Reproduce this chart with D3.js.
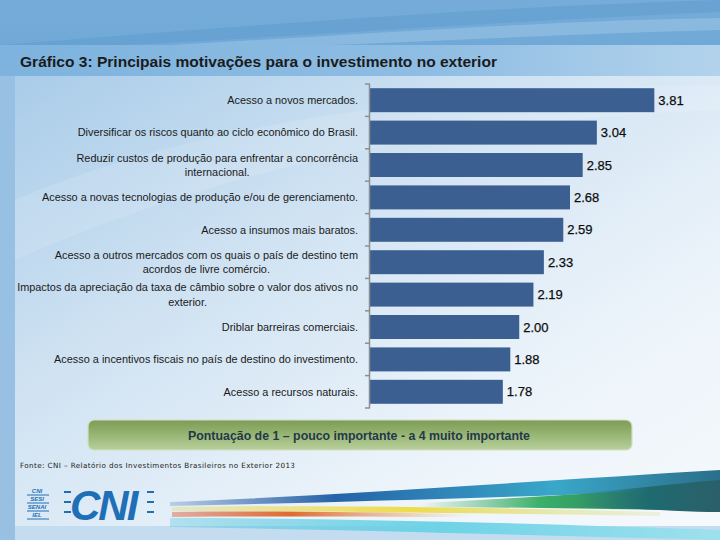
<!DOCTYPE html>
<html>
<head>
<meta charset="utf-8">
<script src="https://cdn.jsdelivr.net/npm/d3@7/dist/d3.min.js"></script>
<style>
  html, body { margin: 0; padding: 0; background: #fff; }
  svg { display: block; }
</style>
</head>
<body>
<svg id="chart" width="720" height="540"></svg>
<script>
// ---------- DATA ----------
const categories = [
  "Acesso a novos mercados.",
  "Diversificar os riscos quanto ao ciclo econômico do Brasil.",
  "Reduzir custos de produção para enfrentar a concorrência\ninternacional.",
  "Acesso a novas tecnologias de produção e/ou de gerenciamento.",
  "Acesso a insumos mais baratos.",
  "Acesso a outros mercados com os quais o país de destino tem\nacordos de livre comércio.",
  "Impactos da apreciação da taxa de câmbio sobre o valor dos ativos no\nexterior.",
  "Driblar barreiras comerciais.",
  "Acesso a incentivos fiscais no país de destino do investimento.",
  "Acesso a recursos naturais."
];
const values = [3.81, 3.04, 2.85, 2.68, 2.59, 2.33, 2.19, 2.00, 1.88, 1.78];
const titleText = "Gráfico 3: Principais motivações para o investimento no exterior";
const noteText = "Pontuação de 1 – pouco importante - a 4 muito importante";
const sourceText = "Fonte: CNI – Relatório dos Investimentos Brasileiros no Exterior 2013";

// ---------- SETUP ----------
const svg = d3.select("#chart");
const defs = svg.append("defs");

function linGrad(id, x1, y1, x2, y2, stops) {
  const g = defs.append("linearGradient").attr("id", id)
    .attr("x1", x1).attr("y1", y1).attr("x2", x2).attr("y2", y2);
  stops.forEach(s => g.append("stop").attr("offset", s[0]).attr("stop-color", s[1]).attr("stop-opacity", s[2] == null ? 1 : s[2]));
  return "url(#" + id + ")";
}

const bgGrad = linGrad("bg", 0, 0, 0, 1, [[0, "#75acd9"], [0.12, "#6ea7d6"], [0.5, "#9dc4e5"], [1, "#c0d9ee"]]);
const titleGrad = linGrad("titleband", 0, 0, 1, 0, [[0, "#7db3de"], [0.6, "#8fbde3"], [1, "#b3d3ec"]]);
const panelGrad = linGrad("panel", 0, 0, 1, 1, [[0, "#a9cce9"], [0.35, "#cfe2f2"], [0.7, "#ebf3fa"], [1, "#f6f9fc"]]);
const greenGrad = linGrad("green", 0, 0, 0, 1, [[0, "#7d9c55"], [0.5, "#98b674"], [1, "#b9cf9c"]]);

// background
svg.append("rect").attr("width", 720).attr("height", 540).attr("fill", bgGrad);
// top waves
svg.append("path").attr("d", "M0,45 C200,30 450,8 720,0 L720,12 C480,22 250,40 60,48 Z").attr("fill", "#5a98cd").attr("opacity", 0.45);
svg.append("path").attr("d", "M120,48 C350,35 560,20 720,18 L720,30 C560,34 380,44 200,50 Z").attr("fill", "#a9cdea").attr("opacity", 0.45);
// title band
svg.append("rect").attr("x", 0).attr("y", 45).attr("width", 720).attr("height", 31).attr("fill", titleGrad);
// left strip
svg.append("rect").attr("x", 0).attr("y", 76).attr("width", 15).attr("height", 464).attr("fill", "#97c0e3");
// panel
svg.append("rect").attr("x", 15).attr("y", 76).attr("width", 705).attr("height", 450).attr("fill", panelGrad);
// soft swoosh in panel
svg.append("path").attr("d", "M15,200 C200,120 450,90 720,85 L720,110 C470,120 240,160 15,260 Z").attr("fill", "#ffffff").attr("opacity", 0.12);
// bottom band
svg.append("rect").attr("x", 15).attr("y", 526).attr("width", 705).attr("height", 14).attr("fill", "#c4dcef");

// title
svg.append("text").attr("x", 20).attr("y", 67)
  .attr("font-family", "'Liberation Sans', Arial, sans-serif")
  .attr("font-weight", "bold").attr("font-size", 15)
  .attr("textLength", 477).attr("lengthAdjust", "spacingAndGlyphs")
  .attr("fill", "#1b1b1b").text(titleText);

// ---------- SCALES ----------
const x = d3.scaleLinear().domain([0, 4]).range([370, 668.5]);
const y = d3.scaleBand().domain(categories).range([84, 408]).paddingInner(0.26).paddingOuter(0.13);

// bars
svg.append("g").selectAll("rect").data(categories).join("rect")
  .attr("x", x(0))
  .attr("y", d => y(d))
  .attr("width", (d, i) => x(values[i]) - x(0))
  .attr("height", y.bandwidth())
  .attr("fill", "#3a5f90");

// axis line with ticks at band boundaries
const axisG = svg.append("g").attr("stroke", "#8a8f96").attr("stroke-width", 1.5).attr("fill", "none");
axisG.append("line").attr("x1", 369.5).attr("x2", 369.5).attr("y1", 84).attr("y2", 408);
const boundaries = d3.range(categories.length + 1).map(i => 84 + i * y.step());
axisG.selectAll("line.tick").data(boundaries).join("line").attr("class", "tick")
  .attr("x1", 365).attr("x2", 370).attr("y1", d => d).attr("y2", d => d);

// value labels
svg.append("g").selectAll("text").data(categories).join("text")
  .attr("x", (d, i) => x(values[i]) + 4)
  .attr("y", d => y(d) + y.bandwidth() / 2)
  .attr("dy", "0.36em")
  .attr("font-family", "'Liberation Sans', Arial, sans-serif")
  .attr("font-size", 13)
  .attr("fill", "#0d0d0d")
  .attr("stroke", "#0d0d0d").attr("stroke-width", 0.25)
  .text((d, i) => values[i].toFixed(2));

// category labels
const labG = svg.append("g")
  .attr("font-family", "'Liberation Sans', Arial, sans-serif")
  .attr("font-size", 10.9).attr("fill", "#1a1a1a");
categories.forEach(c => {
  const lines = c.split("\n");
  const cy = y(c) + y.bandwidth() / 2;
  const lh = 14.5;
  const t = labG.append("text");
  const spans = lines.map((ln, k) => t.append("tspan")
    .attr("y", cy + (k - (lines.length - 1) / 2) * lh)
    .attr("dy", "0.35em").text(ln));
  if (lines.length === 1) {
    t.attr("text-anchor", "end");
    spans[0].attr("x", 358);
  } else {
    const widths = spans.map(s => s.node().getComputedTextLength());
    const maxW = d3.max(widths);
    t.attr("text-anchor", "middle");
    spans.forEach(s => s.attr("x", 358 - maxW / 2));
  }
});

// green note box
svg.append("rect").attr("x", 88).attr("y", 420).attr("width", 544).attr("height", 30)
  .attr("rx", 6).attr("fill", greenGrad).attr("stroke", "#d3e0c2").attr("stroke-width", 1.2);
svg.append("text").attr("x", 359).attr("y", 440)
  .attr("text-anchor", "middle")
  .attr("font-family", "'Liberation Sans', Arial, sans-serif")
  .attr("font-weight", "bold")
  .attr("font-size", 12.2).attr("fill", "#24384a")
  .attr("textLength", 342).attr("lengthAdjust", "spacingAndGlyphs")
  .text(noteText);

// source
svg.append("text").attr("x", 20).attr("y", 468)
  .attr("font-family", "'DejaVu Sans', sans-serif")
  .attr("font-size", 7.2).attr("letter-spacing", 0.4).attr("fill", "#222").text(sourceText);

// ---------- LOGO ----------
const logo = svg.append("g").attr("fill", "#1f6fb6");
["CNI", "SESI", "SENAI", "IEL"].forEach((s, i) => {
  logo.append("text").attr("x", 37).attr("y", 493 + i * 8).attr("text-anchor", "middle")
    .attr("font-family", "'Liberation Sans', Arial, sans-serif").attr("font-weight", "bold")
    .attr("font-style", "italic").attr("font-size", 6).text(s);
  logo.append("rect").attr("x", 27).attr("y", 494.5 + i * 8).attr("width", 22).attr("height", 1);
});
logo.append("text").attr("x", 70).attr("y", 520)
  .attr("font-family", "'Liberation Sans', Arial, sans-serif").attr("font-weight", "bold")
  .attr("font-style", "italic").attr("font-size", 42).attr("letter-spacing", -2).text("CNI");
[0, 1, 2].forEach(i => {
  logo.append("rect").attr("x", 64).attr("y", 491 + i * 10).attr("width", 7).attr("height", 2);
  logo.append("rect").attr("x", 147).attr("y", 491 + i * 10).attr("width", 7).attr("height", 2);
});

// ---------- STRIPES ----------
const sDark = linGrad("sdark", 0, 0, 1, 0, [[0, "#1f4f9c", 0.2], [0.3, "#2563a8"], [0.7, "#3aa7c9"], [1, "#2a6f8a"]]);
const sGreen = linGrad("sgreen", 0, 0, 1, 0, [[0, "#4db36a", 0], [0.4, "#3bb06b"], [1, "#1f5a4a"]]);
const sYellow = linGrad("syellow", 0, 0, 1, 0, [[0, "#e8d74a", 0.3], [0.5, "#eedc4c"], [1, "#d8e0a0", 0.3]]);
const sRed = linGrad("sred", 0, 0, 1, 0, [[0, "#d8542a", 0.4], [0.4, "#e06a30"], [1, "#e9a050", 0]]);
const sCyan = linGrad("scyan", 0, 0, 1, 0, [[0, "#3fc0da", 0.3], [0.5, "#6fd3e6"], [1, "#9fe0ee"]]);
const sTeal = linGrad("steal", 0, 0, 1, 0, [[0, "#2a7f8a", 0], [0.5, "#1f6b70"], [1, "#2b5f6a"]]);

svg.append("path").attr("d", "M170,502 C350,495 550,480 720,470 L720,490 C560,495 360,502 170,506 Z").attr("fill", sDark);
svg.append("path").attr("d", "M420,503 C540,497 640,490 720,486 L720,510 C620,510 520,507 420,507 Z").attr("fill", sGreen);
svg.append("path").attr("d", "M575,494 C640,488 690,482 720,480 L720,512 C680,512 630,508 575,506 Z").attr("fill", sTeal);
svg.append("path").attr("d", "M172,507 C320,505 480,507 660,512 L660,516 C480,513 320,511 172,511 Z").attr("fill", sYellow);
svg.append("path").attr("d", "M172,512 C260,511 360,512 470,514 L470,517 C360,517 260,516 172,517 Z").attr("fill", sRed);
svg.append("path").attr("d", "M170,518 C350,518 550,524 720,530 L720,540 C560,536 360,530 170,527 Z").attr("fill", sCyan);
</script>
</body>
</html>
